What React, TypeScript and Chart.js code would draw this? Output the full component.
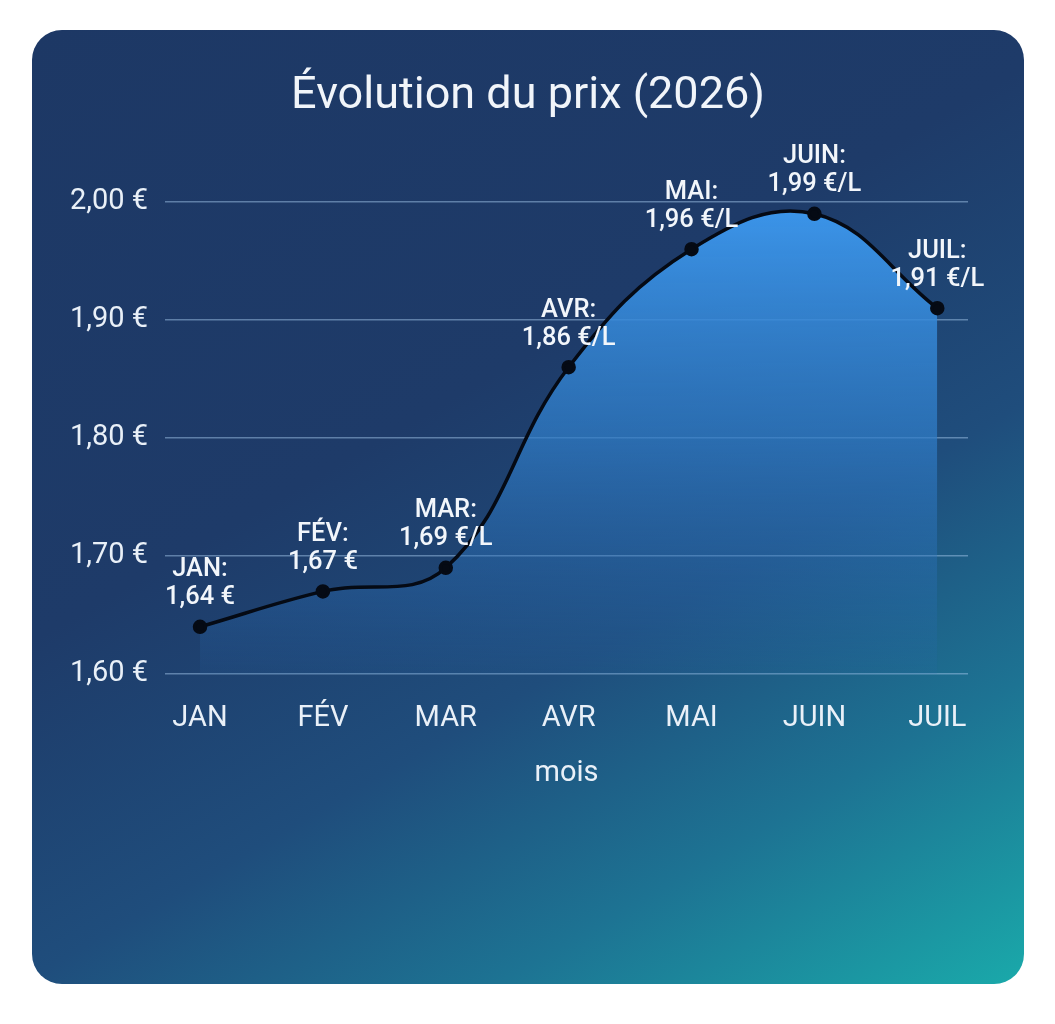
import React, { useEffect, useRef } from "react";
import { Chart, registerables } from "chart.js";

Chart.register(...registerables);

const months = ["JAN", "FÉV", "MAR", "AVR", "MAI", "JUIN", "JUIL"];
const prices = [1.64, 1.67, 1.69, 1.86, 1.96, 1.99, 1.91];
const units = ["€", "€", "€/L", "€/L", "€/L", "€/L", "€/L"];
const yTicks = [1.6, 1.7, 1.8, 1.9, 2.0];

const TITLE = "Évolution du prix (2026)";
const X_TITLE = "mois";
const FONT = "Roboto, 'Noto Sans', sans-serif";
const TEXT = "#e9f0f8";

const fmt = (v: number) => v.toFixed(2).replace(".", ",");

const pointLabels = {
  id: "pointLabels",
  afterDatasetsDraw(chart: any) {
    const meta = chart.getDatasetMeta(0);
    const ctx = chart.ctx;
    ctx.save();
    ctx.font = `500 25.5px ${FONT}`;
    ctx.fillStyle = "#f2f6fb";
    ctx.textAlign = "center";
    ctx.textBaseline = "middle";
    meta.data.forEach((pt: any, i: number) => {
      ctx.fillText(months[i] + ":", pt.x, pt.y - 57);
      ctx.fillText(fmt(prices[i]) + " " + units[i], pt.x, pt.y - 29);
    });
    ctx.restore();
  },
};

const cardTitle = {
  id: "cardTitle",
  afterDraw(chart: any) {
    const ctx = chart.ctx;
    ctx.save();
    ctx.font = `45px ${FONT}`;
    ctx.fillStyle = "#f1f5fa";
    ctx.textAlign = "center";
    ctx.textBaseline = "middle";
    ctx.fillText(TITLE, chart.width / 2, 67);
    ctx.restore();
  },
};

export default function App() {
  const ref = useRef<HTMLCanvasElement>(null);

  useEffect(() => {
    if (!ref.current) return;
    const chart = new Chart(ref.current, {
      type: "line",
      data: {
        datasets: [
          {
            data: prices.map((p, i) => ({ x: i, y: p })),
            borderColor: "#050a14",
            borderWidth: 3.5,
            pointBackgroundColor: "#050a14",
            pointBorderColor: "#050a14",
            pointRadius: 5.5,
            tension: 0.4,
            fill: "start",
            clip: false as any,
            backgroundColor: (c: any) => {
              const area = c.chart.chartArea;
              if (!area) return "rgba(58,146,226,0.6)";
              const g = c.chart.ctx.createLinearGradient(0, area.top, 0, area.bottom);
              g.addColorStop(0, "rgba(60,150,235,1)");
              g.addColorStop(0.5, "rgba(48,125,200,0.72)");
              g.addColorStop(1, "rgba(40,105,175,0.12)");
              return g;
            },
          },
        ],
      },
      options: {
        responsive: false,
        animation: false,
        devicePixelRatio: 1,
        layout: { padding: { left: 0, right: 56, top: 172, bottom: 170 } },
        plugins: {
          legend: { display: false },
          tooltip: { enabled: false },
          title: { display: false },
        },
        scales: {
          x: {
            type: "linear",
            min: -0.285,
            max: 6.25,
            grid: { display: false },
            border: { display: false },
            afterBuildTicks: (s: any) => {
              s.ticks = months.map((_, i) => ({ value: i }));
            },
            afterFit: (s: any) => {
              s.height = 140;
            },
            ticks: {
              autoSkip: false,
              maxRotation: 0,
              padding: 19,
              color: TEXT,
              font: { family: FONT, size: 29, lineHeight: 1.2 },
              callback: (v: any) => months[Math.round(Number(v))] ?? "",
            },
            title: {
              display: true,
              text: X_TITLE,
              color: TEXT,
              font: { family: FONT, size: 29, lineHeight: 1.2 },
              padding: { top: 0, bottom: 23 },
            },
          },
          y: {
            min: yTicks[0],
            max: yTicks[yTicks.length - 1],
            afterFit: (s: any) => {
              s.width = 133;
            },
            afterBuildTicks: (s: any) => {
              s.ticks = yTicks.map((v) => ({ value: v }));
            },
            grid: {
              color: "rgba(160,195,232,0.5)",
              lineWidth: 1.5,
              drawTicks: false,
            },
            border: { display: false },
            ticks: {
              padding: 17,
              color: TEXT,
              font: { family: FONT, size: 29, lineHeight: 1.2 },
              callback: (v: any) => fmt(Number(v)) + " €",
            },
          },
        },
      },
      plugins: [pointLabels, cardTitle],
    });
    return () => chart.destroy();
  }, []);

  return (
    <div
      style={{
        marginLeft: 24,
        marginTop: 22,
        width: 992,
        height: 954,
        borderRadius: 30,
        overflow: "hidden",
        background:
          "linear-gradient(150deg, #1d3865 0%, #1e3b69 40%, #1f4d7c 62%, #1d7393 80%, #1aa9aa 100%)",
      }}
    >
      <canvas ref={ref} width={992} height={954} style={{ display: "block" }} />
    </div>
  );
}
